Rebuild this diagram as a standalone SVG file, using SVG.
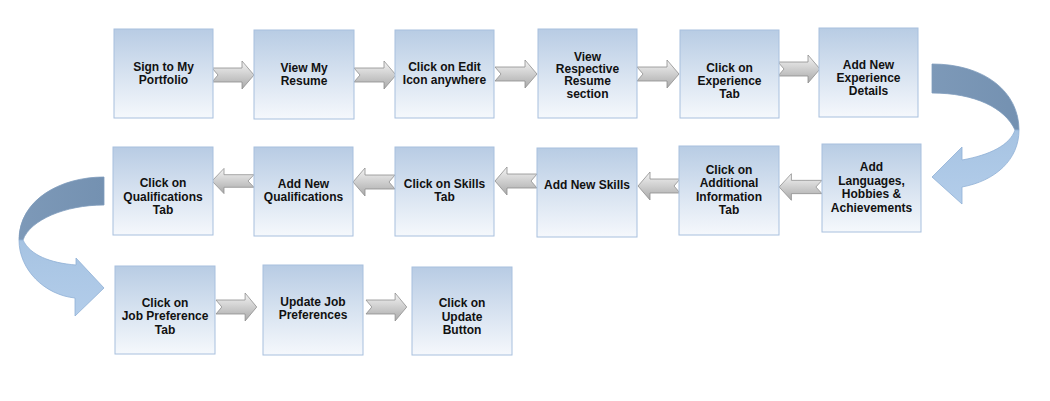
<svg xmlns="http://www.w3.org/2000/svg" width="1050" height="401" viewBox="0 0 1050 401">
<defs>
<linearGradient id="boxg" x1="0" y1="0" x2="0" y2="1">
<stop offset="0" stop-color="#b8cce4"/>
<stop offset="1" stop-color="#f5f8fc"/>
</linearGradient>
<linearGradient id="arrg" x1="0" y1="0" x2="0" y2="1">
<stop offset="0" stop-color="#f4f4f4"/>
<stop offset="1" stop-color="#a9a9a9"/>
</linearGradient>
<linearGradient id="darkg" x1="0" y1="0" x2="1" y2="0">
<stop offset="0" stop-color="#7d99b8"/>
<stop offset="1" stop-color="#7491b1"/>
</linearGradient>
<linearGradient id="lightg" x1="0" y1="0" x2="0" y2="1">
<stop offset="0" stop-color="#a6c3e2"/>
<stop offset="1" stop-color="#b3cdea"/>
</linearGradient>
<path id="arr" d="M0,-7 L30,-7 L30,-14 L42,0 L30,14 L30,7 L0,7 L6,0 Z"/>
</defs>
<style>
.box{fill:url(#boxg);stroke:#a8c0de;stroke-width:1}
.t{font-family:"Liberation Sans",Arial,sans-serif;font-weight:bold;font-size:12px;fill:#111;text-anchor:middle}
.a{fill:url(#arrg);stroke:#8e8e8e;stroke-width:0.8}
.cd{fill:url(#darkg);stroke:#7f9cbc;stroke-width:0.8}
.cl{fill:url(#lightg);stroke:#8fb0d6;stroke-width:0.8}
</style>
<rect width="1050" height="401" fill="#ffffff"/>

<g id="connectors">
<use href="#arr" class="a" transform="translate(212,75)"/>
<use href="#arr" class="a" transform="translate(354,75)"/>
<use href="#arr" class="a" transform="translate(495,74)"/>
<use href="#arr" class="a" transform="translate(637,74)"/>
<use href="#arr" class="a" transform="translate(778,69)"/>
<use href="#arr" class="a" transform="translate(822,187) scale(-1.02,0.95)"/>
<use href="#arr" class="a" transform="translate(680,186) scale(-1,1)"/>
<use href="#arr" class="a" transform="translate(537,181) scale(-1,1)"/>
<use href="#arr" class="a" transform="translate(395,182) scale(-1,1)"/>
<use href="#arr" class="a" transform="translate(254,181) scale(-1,0.9)"/>
<use href="#arr" class="a" transform="translate(216,307) scale(0.97,1)"/>
<use href="#arr" class="a" transform="translate(366,307) scale(0.97,1)"/>
<path class="cd" d="M932,64 C985,64 1019,92 1019,130 L1015,130 C1005,108 975,93 932,93 Z"/>
<path class="cl" d="M1019,130 C1019,160 995,181 962,187 L962,204 L932,177 L962,147 L962,160 C990,155 1010,145 1015,130 Z"/>
<path class="cd" d="M104,177 C60,177 19,200 19,240 L23,240 C30,220 65,205 104,205 Z"/>
<path class="cl" d="M19,240 C19,270 45,295 75,298 L75,316 L104,288 L76,258 L76,265 C50,263 30,255 23,240 Z"/>
</g>

<g id="n1"><rect class="box" x="114" y="29" width="99" height="89"/>
<text class="t" x="163.5" y="71">Sign to My</text><text class="t" x="163.5" y="84">Portfolio</text></g>
<g id="n2"><rect class="box" x="254" y="30" width="100" height="89"/>
<text class="t" x="304" y="72">View My</text><text class="t" x="304" y="85">Resume</text></g>
<g id="n3"><rect class="box" x="395" y="30" width="99" height="88"/>
<text class="t" x="444.5" y="71">Click on Edit</text><text class="t" x="444.5" y="84">Icon anywhere</text></g>
<g id="n4"><rect class="box" x="538" y="29" width="99" height="89"/>
<text class="t" x="587.5" y="61">View</text><text class="t" x="587.5" y="73">Respective</text><text class="t" x="587.5" y="85">Resume</text><text class="t" x="587.5" y="98">section</text></g>
<g id="n5"><rect class="box" x="680" y="30" width="99" height="88"/>
<text class="t" x="729.5" y="72">Click on</text><text class="t" x="729.5" y="85">Experience</text><text class="t" x="729.5" y="98">Tab</text></g>
<g id="n6"><rect class="box" x="819" y="28" width="99" height="89"/>
<text class="t" x="868.5" y="69">Add New</text><text class="t" x="868.5" y="82">Experience</text><text class="t" x="868.5" y="95">Details</text></g>

<g id="n7"><rect class="box" x="822" y="144" width="99" height="88"/>
<text class="t" x="871.5" y="171">Add</text><text class="t" x="871.5" y="185">Languages,</text><text class="t" x="871.5" y="198">Hobbies &amp;</text><text class="t" x="871.5" y="212">Achievements</text></g>
<g id="n8"><rect class="box" x="679" y="146" width="100" height="89"/>
<text class="t" x="729" y="174">Click on</text><text class="t" x="729" y="187">Additional</text><text class="t" x="729" y="201">Information</text><text class="t" x="729" y="214">Tab</text></g>
<g id="n9"><rect class="box" x="537" y="148" width="100" height="89"/>
<text class="t" x="587" y="189">Add New Skills</text></g>
<g id="n10"><rect class="box" x="395" y="147" width="99" height="89"/>
<text class="t" x="444.5" y="188">Click on Skills</text><text class="t" x="444.5" y="201">Tab</text></g>
<g id="n11"><rect class="box" x="254" y="147" width="99" height="89"/>
<text class="t" x="303.5" y="188">Add New</text><text class="t" x="303.5" y="201">Qualifications</text></g>
<g id="n12"><rect class="box" x="113" y="147" width="100" height="88"/>
<text class="t" x="163" y="187">Click on</text><text class="t" x="163" y="201">Qualifications</text><text class="t" x="163" y="214">Tab</text></g>

<g id="n13"><rect class="box" x="115" y="266" width="100" height="88"/>
<text class="t" x="165" y="307">Click on</text><text class="t" x="165" y="320">Job Preference</text><text class="t" x="165" y="334">Tab</text></g>
<g id="n14"><rect class="box" x="263" y="265" width="100" height="90"/>
<text class="t" x="313" y="306">Update Job</text><text class="t" x="313" y="319">Preferences</text></g>
<g id="n15"><rect class="box" x="412" y="267" width="100" height="88"/>
<text class="t" x="462" y="307">Click on</text><text class="t" x="462" y="321">Update</text><text class="t" x="462" y="334">Button</text></g>
</svg>
